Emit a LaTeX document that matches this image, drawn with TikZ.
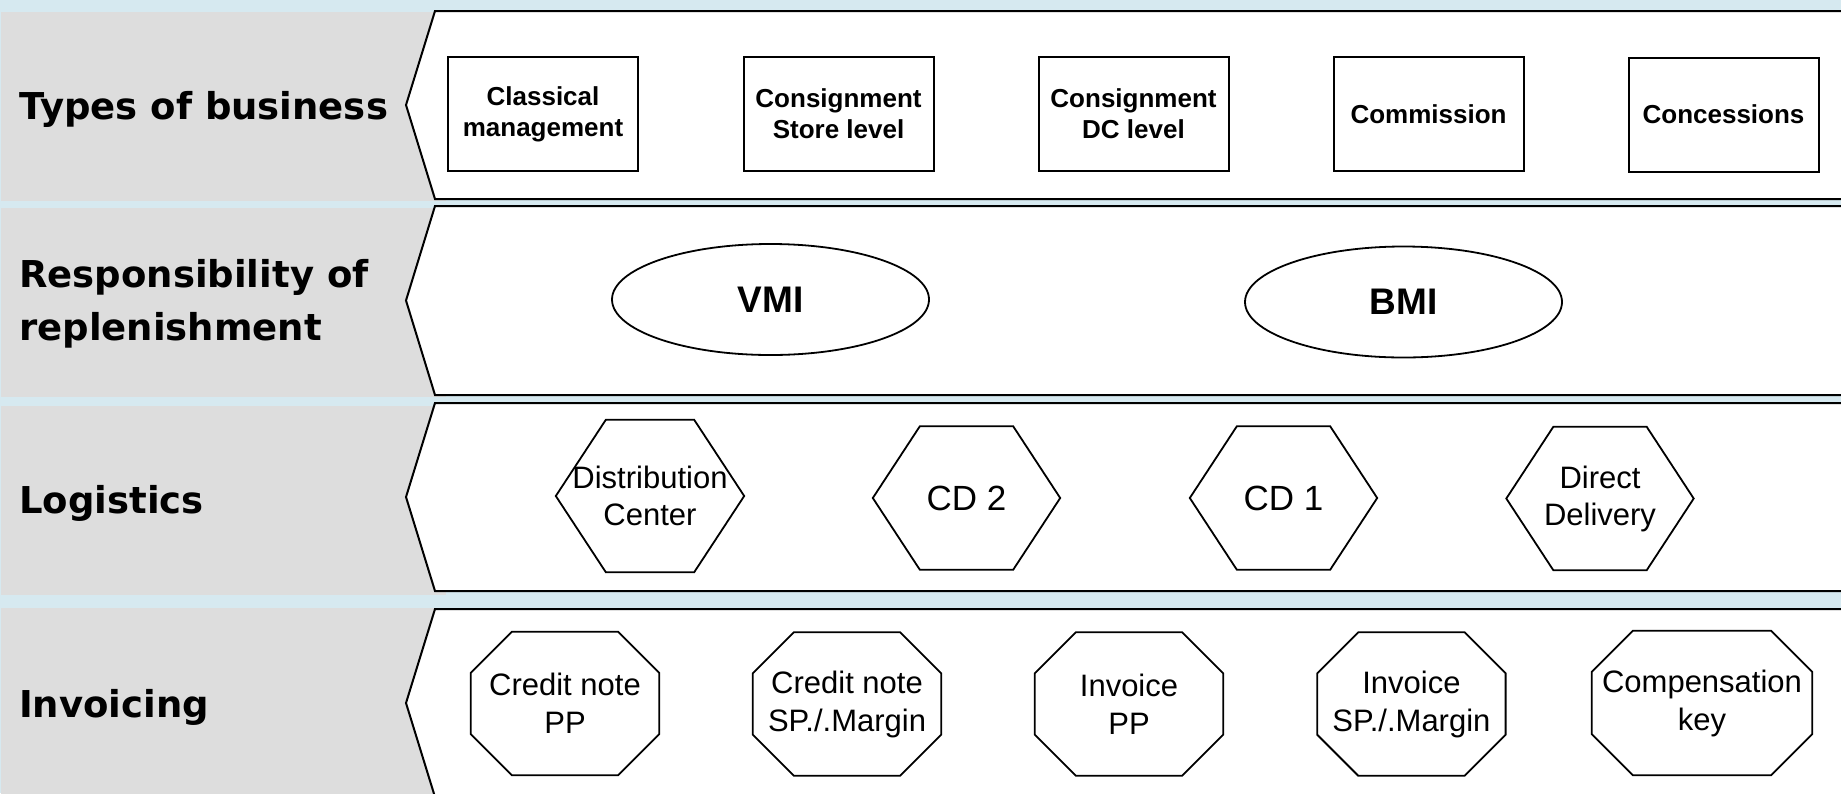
\documentclass[tikz,border=0pt]{standalone}
\usepackage{fontspec}
\setmainfont{Liberation Sans}
\newfontfamily\lblfont{DejaVu Sans}
\usetikzlibrary{shapes.geometric,calc}
\definecolor{bgblue}{HTML}{D6E9F0}
\definecolor{bandgrey}{HTML}{DDDDDD}
\tikzset{
 rowlabel/.style={anchor=base west, inner sep=0pt, font=\lblfont\bfseries\fontsize{37}{53}\selectfont},
 bizbox/.style={draw=black, line width=2pt, fill=white, minimum width=190pt, minimum height=114pt, inner sep=0pt, align=center, font=\bfseries\fontsize{26}{31}\selectfont},
 respell/.style={ellipse, draw=black, line width=1.8pt, fill=white, minimum width=317pt, minimum height=111pt, inner sep=0pt, font=\bfseries\fontsize{37}{44}\selectfont},
 hexbox/.style={inner sep=0pt, minimum width=187pt, minimum height=143pt, align=center, font=\fontsize{31}{37}\selectfont},
 octbox/.style={inner sep=0pt, minimum width=188pt, minimum height=143pt, align=center, font=\fontsize{31}{38}\selectfont},
 outl/.style={draw=black, line width=1.8pt, line join=miter},
 lane/.style={draw=black, line width=2pt, fill=white, line join=miter},
}
\newcommand\hexoutline[2]{\draw[outl] (#1.west) -- ($(#1.north west)+(#2,0)$) -- ($(#1.north east)+(-#2,0)$) -- (#1.east) -- ($(#1.south east)+(-#2,0)$) -- ($(#1.south west)+(#2,0)$) -- cycle;}
\newcommand\octoutline[2]{\draw[outl] ($(#1.north west)+(#2,0)$) -- ($(#1.north east)+(-#2,0)$) -- ($(#1.north east)+(0,#2)$) -- ($(#1.south east)+(0,-#2)$) -- ($(#1.south east)+(-#2,0)$) -- ($(#1.south west)+(#2,0)$) -- ($(#1.south west)+(0,-#2)$) -- ($(#1.north west)+(0,#2)$) -- cycle;}
\begin{document}
\begin{tikzpicture}[x=1pt, y=-1pt]
\useasboundingbox (0,0) rectangle (1841,793);
\clip (0,0) rectangle (1841,793);
% background
\fill[bgblue] (0,0) rectangle (1841,793);
\fill[bandgrey] (1,12) rectangle (446,201);
\fill[bandgrey] (1,208) rectangle (446,397);
\fill[bandgrey] (1,406) rectangle (446,595);
\fill[bandgrey] (1,608) rectangle (446,800);
% lanes
\draw[lane] (406,105) -- (435,11) -- (1870,11) -- (1870,199) -- (435,199) -- cycle;
\draw[lane] (406,300.5) -- (435,206) -- (1870,206) -- (1870,395) -- (435,395) -- cycle;
\draw[lane] (406,497) -- (435,403) -- (1870,403) -- (1870,591) -- (435,591) -- cycle;
\draw[lane] (406,703) -- (435,609) -- (1870,609) -- (1870,797) -- (435,797) -- cycle;
% row labels
\node[rowlabel] (l1) at (19,119.3) {Types of business};
\node[rowlabel] (l2a) at (19,287) {Responsibility of};
\node[rowlabel] (l2b) at (19,340) {replenishment};
\node[rowlabel] (l3) at (19,513) {Logistics};
\node[rowlabel] (l4) at (19,717) {Invoicing};
% types of business
\node[bizbox] (b1) at (543,114) {Classical\\management};
\node[bizbox] (b2) at (838.5,114) {Consignment\\Store level};
\node[bizbox] (b3) at (1133.5,114) {Consignment\\DC level};
\node[bizbox] (b4) at (1428.5,114) {Commission};
\node[bizbox] (b5) at (1723.5,114.5) {Concessions};
% replenishment
\node[respell] (vmi) at (770.5,299.5) {VMI};
\node[respell] (bmi) at (1403.5,302) {BMI};
% logistics
\node[hexbox, minimum width=188pt, minimum height=152pt] (dc) at (650,496) {Distribution\\Center};
\node[hexbox, font=\fontsize{35}{40}\selectfont] (cd2) at (966.5,498) {CD 2};
\node[hexbox, font=\fontsize{35}{40}\selectfont] (cd1) at (1283.5,498) {CD 1};
\node[hexbox] (dd) at (1600,498.5) {Direct\\Delivery};
\hexoutline{dc}{50}
\hexoutline{cd2}{47}
\hexoutline{cd1}{47}
\hexoutline{dd}{47}
% invoicing
\node[octbox] (o1) at (565,703.5) {Credit note\\PP};
\node[octbox] (o2) at (847,704) {Credit note\\SP./.Margin};
\node[octbox] (o3) at (1129,704) {Invoice\\PP};
\node[octbox] (o4) at (1411.4,704) {Invoice\\SP./.Margin};
\node[octbox, minimum width=220pt, minimum height=144pt] (o5) at (1702,703) {Compensation\\key};
\octoutline{o1}{41}
\octoutline{o2}{41}
\octoutline{o3}{41}
\octoutline{o4}{41}
\octoutline{o5}{41}
\end{tikzpicture}
\end{document}
